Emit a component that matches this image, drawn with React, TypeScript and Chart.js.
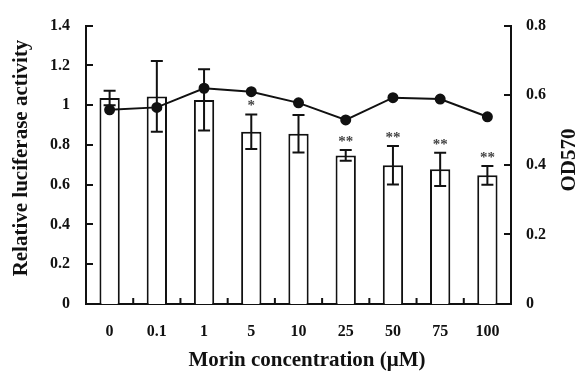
import React, { useEffect, useRef } from "react";
import { Chart, registerables } from "chart.js";

Chart.register(...registerables);

const categories = ["0", "0.1", "1", "5", "10", "25", "50", "75", "100"];
const luciferase = [1.036, 1.044, 1.026, 0.866, 0.856, 0.747, 0.698, 0.677, 0.647];
const luciferaseErr = [0.036, 0.178, 0.154, 0.087, 0.094, 0.027, 0.097, 0.084, 0.047];
const od570 = [0.558, 0.565, 0.62, 0.61, 0.578, 0.529, 0.593, 0.589, 0.538];
const significance = ["", "", "", "*", "", "**", "**", "**", "**"];

const xTitle = "Morin concentration (\u03bcM)";
const yTitle = "Relative luciferase activity";
const y2Title = "OD570";

const FONT = "'Liberation Serif', 'Times New Roman', serif";
const INK = "#111";

const overlay = {
  id: "overlay",
  afterDatasetDraw(chart: any, args: any) {
    if (args.index !== 0) return;
    const ctx = chart.ctx;
    const xs = chart.scales.x;
    const ys = chart.scales.y;
    ctx.save();
    ctx.strokeStyle = INK;
    ctx.lineWidth = 2;
    luciferase.forEach((v, i) => {
      const px = xs.getPixelForValue(i);
      const top = ys.getPixelForValue(v + luciferaseErr[i]);
      const bot = ys.getPixelForValue(v - luciferaseErr[i]);
      ctx.beginPath();
      ctx.moveTo(px, top);
      ctx.lineTo(px, bot);
      ctx.moveTo(px - 6, top);
      ctx.lineTo(px + 6, top);
      ctx.moveTo(px - 6, bot);
      ctx.lineTo(px + 6, bot);
      ctx.stroke();
    });
    ctx.restore();
  },
  afterDraw(chart: any) {
    const ctx = chart.ctx;
    const xs = chart.scales.x;
    const ys = chart.scales.y;
    const y2 = chart.scales.y2;
    const area = chart.chartArea;
    ctx.save();
    ctx.strokeStyle = INK;
    ctx.lineWidth = 2;
    ys.ticks.forEach((t: any) => {
      const py = Math.round(ys.getPixelForValue(t.value));
      ctx.beginPath();
      ctx.moveTo(area.left, py);
      ctx.lineTo(area.left + 7, py);
      ctx.stroke();
    });
    y2.ticks.forEach((t: any) => {
      const py = Math.round(y2.getPixelForValue(t.value));
      ctx.beginPath();
      ctx.moveTo(area.right, py);
      ctx.lineTo(area.right - 7, py);
      ctx.stroke();
    });
    for (let i = 0; i < categories.length - 1; i++) {
      const bx = (xs.getPixelForValue(i) + xs.getPixelForValue(i + 1)) / 2;
      ctx.beginPath();
      ctx.moveTo(bx, area.bottom);
      ctx.lineTo(bx, area.bottom - 6);
      ctx.stroke();
    }
    ctx.fillStyle = "#444";
    ctx.font = `bold 15px ${FONT}`;
    ctx.textAlign = "center";
    ctx.textBaseline = "alphabetic";
    significance.forEach((s, i) => {
      if (!s) return;
      const px = xs.getPixelForValue(i);
      const top = ys.getPixelForValue(luciferase[i] + luciferaseErr[i]);
      ctx.fillText(s, px, top - 4);
    });
    ctx.fillStyle = INK;
    ctx.font = `bold 21px ${FONT}`;
    ctx.textBaseline = "middle";
    ctx.fillText(xTitle, 307, 361);
    ctx.save();
    ctx.translate(22, 158);
    ctx.rotate(-Math.PI / 2);
    ctx.fillText(yTitle, 0, 0);
    ctx.restore();
    ctx.save();
    ctx.translate(570, 160);
    ctx.rotate(-Math.PI / 2);
    ctx.fillText(y2Title, 0, 0);
    ctx.restore();
    ctx.restore();
  },
};

export default function App() {
  const ref = useRef<HTMLCanvasElement>(null);
  useEffect(() => {
    document.body.style.margin = "0";
    const tickFont = { family: FONT, size: 16, weight: "bold" as const };
    const fmt = (v: any) => String(Math.round(Number(v) * 10) / 10);
    const chart = new Chart(ref.current as HTMLCanvasElement, {
      type: "bar",
      data: {
        labels: categories,
        datasets: [
          {
            type: "bar",
            data: luciferase,
            yAxisID: "y",
            backgroundColor: "#fff",
            borderColor: INK,
            borderWidth: 2,
            barPercentage: 0.43,
            categoryPercentage: 1,
            order: 1,
          },
          {
            type: "line",
            data: od570,
            yAxisID: "y2",
            borderColor: INK,
            borderWidth: 2,
            pointRadius: 4.5,
            pointBackgroundColor: INK,
            pointBorderColor: INK,
            tension: 0,
            order: 0,
          } as any,
        ],
      },
      plugins: [overlay],
      options: {
        animation: false,
        responsive: false,
        devicePixelRatio: 1,
        layout: { padding: { top: 21, left: 0, right: 0, bottom: 0 } },
        plugins: { legend: { display: false }, tooltip: { enabled: false } },
        scales: {
          x: {
            type: "category",
            offset: true,
            grid: { display: false, drawTicks: false },
            border: { display: true, color: INK, width: 2 },
            ticks: { font: tickFont, color: INK, padding: 18, maxRotation: 0 },
            afterFit: (s: any) => {
              s.height = 67;
            },
          },
          y: {
            position: "left",
            min: 0,
            max: 1.4,
            grid: { display: false, drawTicks: false },
            border: { display: true, color: INK, width: 2 },
            ticks: { stepSize: 0.2, font: tickFont, color: INK, padding: 16, callback: fmt },
            afterFit: (s: any) => {
              s.width = 86;
            },
          },
          y2: {
            position: "right",
            min: 0,
            max: 0.8,
            grid: { display: false, drawTicks: false },
            border: { display: true, color: INK, width: 2 },
            ticks: { stepSize: 0.2, font: tickFont, color: INK, padding: 15, callback: fmt },
            afterFit: (s: any) => {
              s.width = 72;
            },
          },
        },
      } as any,
    });
    return () => chart.destroy();
  }, []);
  return <canvas ref={ref} width={583} height={371} style={{ display: "block" }} />;
}
